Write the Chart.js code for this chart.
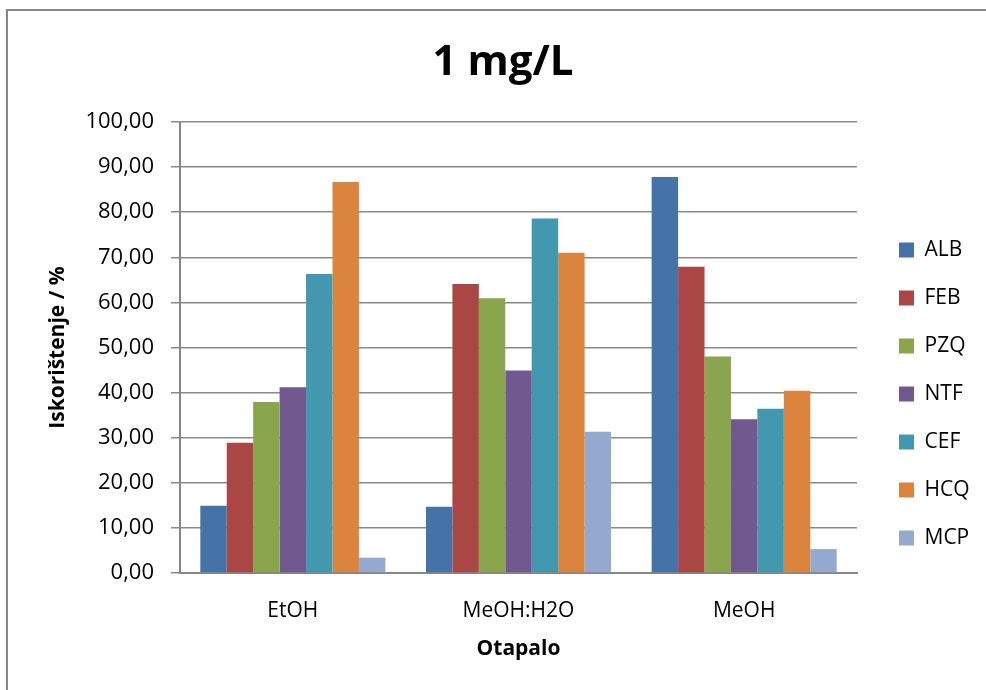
<!DOCTYPE html>
<html>
<head>
<meta charset="utf-8">
<script src="https://cdn.jsdelivr.net/npm/chart.js@4"></script>
<style>
    html, body { margin: 0; padding: 0; background: #fff; }
    #frame { position: absolute; left: 6px; top: 9px; width: 1200px; height: 900px;
             border-left: 2px solid #878787; border-top: 2px solid #878787; }
    #wrap { position: absolute; left: 0; top: 0; width: 986px; height: 690px; }
</style>
</head>
<body>
<div id="frame"></div>
<div id="wrap"><canvas id="chart"></canvas></div>
<script>
const solvents = ["EtOH", "MeOH:H2O", "MeOH"];
const seriesNames = ["ALB", "FEB", "PZQ", "NTF", "CEF", "HCQ", "MCP"];
const seriesColors = ["#4572A7", "#AA4643", "#89A54E", "#71588F", "#4198AF", "#DB843D", "#93A9CF"];

// recovery (%) per compound, in solvent order
const alb = [14.9, 14.7, 87.8];
const feb = [28.9, 64.1, 67.9];
const pzq = [37.9, 60.9, 48.0];
const ntf = [41.2, 44.9, 34.1];
const cef = [66.3, 78.6, 36.4];
const hcq = [86.7, 71.0, 40.4];
const mcp = [3.4, 31.3, 5.3];

const yMin = 0, yMax = 100, yStep = 10;

const FONT = "'Open Sans', 'Noto Sans', sans-serif";
const allValues = [alb, feb, pzq, ntf, cef, hcq, mcp];

const datasets = seriesNames.map((name, i) => ({
    label: name,
    data: allValues[i],
    backgroundColor: seriesColors[i],
    borderWidth: 0,
    barPercentage: 1.0,
    categoryPercentage: 0.82,
}));

new Chart(document.getElementById("chart"), {
    type: "bar",
    data: { labels: solvents, datasets },
    options: {
        responsive: true,
        maintainAspectRatio: false,
        animation: false,
        layout: { padding: { left: 34, top: 10, right: 14, bottom: 0 } },
        plugins: {
            title: {
                display: true,
                text: "1 mg/L",
                color: "#000",
                font: { family: FONT, size: 42, weight: "bold", lineHeight: 1 },
                padding: { top: 32, bottom: 38 },
            },
            legend: {
                position: "right",
                maxWidth: 100,
                title: { display: true, text: "", font: { size: 10, lineHeight: 1 }, padding: { top: 39, bottom: 39 } },
                labels: {
                    boxWidth: 15,
                    boxHeight: 15,
                    padding: 27,
                    color: "#000",
                    font: { family: FONT, size: 21 },
                },
            },
            tooltip: { enabled: false },
        },
        scales: {
            x: {
                grid: { display: false },
                border: { display: true, color: "#878787", width: 2 },
                ticks: { color: "#000", font: { family: FONT, size: 21 }, padding: 17 },
                title: {
                    display: true,
                    text: "Otapalo",
                    color: "#000",
                    font: { family: FONT, size: 21, weight: "bold" },
                    padding: { top: 0, bottom: 28 },
                },
                afterFit: (s) => { s.height = 117; },
            },
            y: {
                min: yMin,
                max: yMax,
                grid: { color: "#8a8a8a", lineWidth: 1.5, tickLength: 9, drawTicks: true },
                border: { display: true, color: "#878787", width: 2 },
                ticks: {
                    stepSize: yStep,
                    padding: 17,
                    color: "#000",
                    font: { family: FONT, size: 22 },
                    callback: (v) => v.toFixed(2).replace(".", ","),
                },
                title: {
                    display: true,
                    text: "Iskorištenje / %",
                    color: "#000",
                    font: { family: FONT, size: 21, weight: "bold" },
                    padding: { top: 11, bottom: 0 },
                },
                afterFit: (s) => { s.width = 146; },
            },
            gap: {
                position: "right",
                display: true,
                grid: { display: false, drawTicks: false },
                border: { display: false },
                ticks: { display: false },
                afterFit: (s) => { s.width = 15; },
            },
        },
    },
});
</script>
</body>
</html>
